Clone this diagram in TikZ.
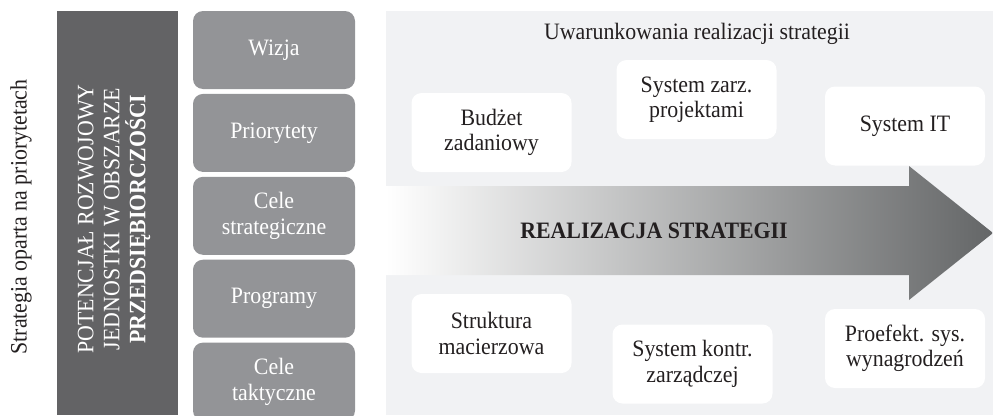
\documentclass[tikz,border=0pt]{standalone}
\usepackage{fontspec}
\setmainfont{Liberation Serif}[FakeStretch=0.93]
\usetikzlibrary{positioning}
\definecolor{darkpanel}{HTML}{636365}
\definecolor{stepgray}{HTML}{939497}
\definecolor{lightpanel}{HTML}{F1F2F4}
\definecolor{arrowmid}{HTML}{C4C5C5}
\definecolor{arrowend}{HTML}{646667}
\definecolor{ink}{HTML}{231F20}
\tikzset{level/.style={fill=stepgray, rounded corners=10pt, text=white, align=center, minimum width=162pt, minimum height=78pt, inner sep=0pt, font=\fontsize{23.5}{26}\selectfont}, factor/.style={fill=white, rounded corners=10pt, text=ink, align=center, minimum width=160pt, minimum height=79pt, inner sep=0pt, font=\fontsize{23.5}{25.5}\selectfont}, lab/.style={text=ink, font=\fontsize{23.5}{26}\selectfont}}

\begin{document}
\begin{tikzpicture}[x=1pt,y=-1pt]
\useasboundingbox (0,0) rectangle (993,415);
\node[lab, rotate=90] (strategia) at (21,217) {Strategia oparta na priorytetach};
\fill[darkpanel] (57,11) rectangle (178,415);
\node[rotate=90, align=center, text=white, font=\fontsize{23.5}{26}\selectfont] (potencjal) at (114,219) {POTENCJAŁ ROZWOJOWY\\JEDNOSTKI W OBSZARZE\\\textbf{PRZEDSIĘBIORCZOŚCI}};
% kolumna priorytetow
\node[level] (wizja) at (274,50) {Wizja};
\node[level, below=4.5pt of wizja] (priorytety) {Priorytety};
\node[level, below=4.5pt of priorytety] (celestrat) {Cele\\strategiczne};
\node[level, below=4.5pt of celestrat] (programy) {Programy};
\node[level, below=4.5pt of programy] (celetakt) {Cele\\taktyczne};
% uwarunkowania
\fill[lightpanel] (386,11) rectangle (993,415);
\shade[left color=white, middle color=arrowmid, right color=arrowend] (386,186)--(909,186)--(909,166)--(993,233)--(909,300)--(909,275)--(386,275)--cycle;
\node[lab] (uwarunkowania) at (697,34) {Uwarunkowania realizacji strategii};
\node[factor] (budzet) at (491.5,132.5) {Budżet\\zadaniowy};
\node[factor] (projekty) at (696.5,99.5) {System zarz.\\projektami};
\node[factor] (systemit) at (905,126) {System IT};
\node[lab, font=\fontsize{23.5}{26}\selectfont\bfseries] (realizacja) at (654,231) {REALIZACJA STRATEGII};
\node[factor] (struktura) at (491.5,333.5) {Struktura\\macierzowa};
\node[factor] (kontrola) at (692.5,364) {System kontr.\\zarządczej};
\node[factor] (wynagrodzenia) at (905,348.5) {Proefekt. sys.\\wynagrodzeń};
\end{tikzpicture}
\end{document}
